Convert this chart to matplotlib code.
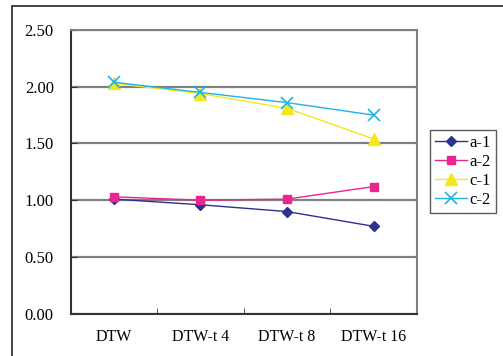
import matplotlib
matplotlib.use("Agg")
import matplotlib.pyplot as plt
from matplotlib.patches import Rectangle

categories = ["DTW", "DTW-t 4", "DTW-t 8", "DTW-t 16"]
a1 = [1.01, 0.96, 0.90, 0.77]
a2 = [1.03, 1.00, 1.01, 1.12]
c1 = [2.03, 1.94, 1.81, 1.54]
c2 = [2.04, 1.95, 1.86, 1.75]
yticks = [0.0, 0.5, 1.0, 1.5, 2.0, 2.5]

plt.rcParams['font.family'] = ['Liberation Serif', 'DejaVu Serif']

W, H = 503, 356
fig = plt.figure(figsize=(W / 100, H / 100), dpi=100)

# outer chart frame (runs off the right and bottom edges)
fig.add_artist(Rectangle((12 / W, -0.1), 1.2, (H - 6) / H + 0.1,
                         transform=fig.transFigure, fill=False,
                         edgecolor='#222222', linewidth=1.2))

ax = fig.add_axes([70.5 / W, 1 - 313.7 / H, (417 - 70.5) / W, (313.7 - 30) / H])

x = range(len(categories))
ax.plot(x, a1, color='#2E3192', marker='D', markersize=5, linewidth=1, label='a-1')
ax.plot(x, a2, color='#EC258E', marker='s', markersize=6, linewidth=1, label='a-2')
ax.plot(x, c1, color='#F5E61E', marker='^', markersize=8, linewidth=1, label='c-1')
ax.plot(x, c2, color='#1EB4E8', marker='x', markersize=8, markeredgewidth=1.2,
        linewidth=1, label='c-2')

ax.set_xlim(-0.5, 3.5)
ax.set_ylim(0, 2.5)
ax.set_yticks(yticks)
ax.set_yticklabels([f"{v:.2f}" for v in yticks], fontsize=12)
ax.yaxis.grid(True, color='#808080', linewidth=1.6)
ax.set_axisbelow(True)

ax.set_xticks(list(x))
ax.set_xticklabels(categories, fontsize=11.5)
ax.set_xticks([0.5, 1.5, 2.5], minor=True)
ax.tick_params(axis='x', which='major', length=0, pad=11)
ax.tick_params(axis='x', which='minor', direction='in', length=4, color='#333333')
ax.tick_params(axis='y', direction='in', length=4, pad=12, color='#333333')

for side in ['top', 'right']:
    ax.spines[side].set_color('#808080')
    ax.spines[side].set_linewidth(1.5)
for side in ['left', 'bottom']:
    ax.spines[side].set_color('#333333')
    ax.spines[side].set_linewidth(1.5)

leg = ax.legend(loc='upper left', bbox_to_anchor=(430 / W, 1 - 130 / H),
                bbox_transform=fig.transFigure, fontsize=12, frameon=True,
                fancybox=False, handlelength=1.9, handletextpad=0.15,
                labelspacing=0.18, borderpad=0.3, borderaxespad=0)
leg.get_frame().set_edgecolor('#333333')
leg.get_frame().set_linewidth(1)

fig.savefig("out.png", dpi=100)
